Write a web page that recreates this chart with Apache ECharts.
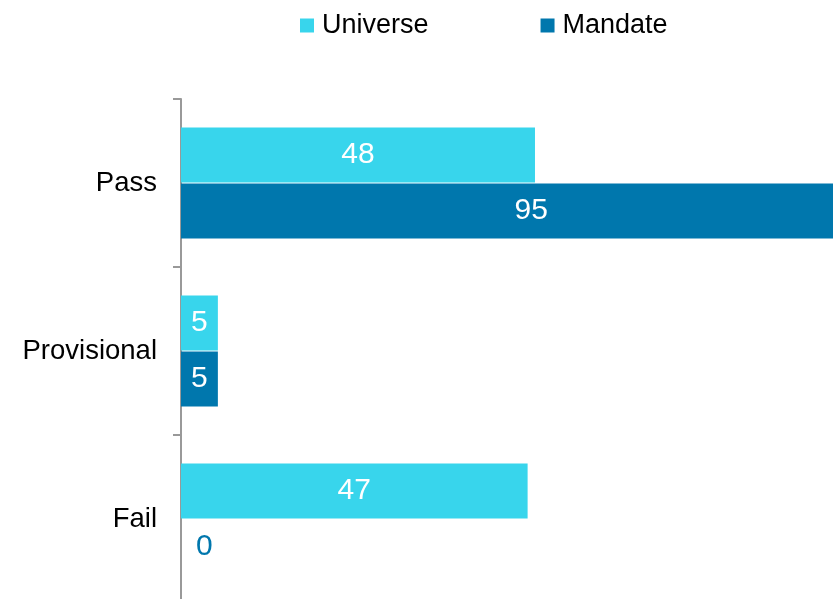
<!DOCTYPE html>
<html>
<head>
<meta charset="utf-8">
<script src="https://cdn.jsdelivr.net/npm/echarts@6/dist/echarts.min.js"></script>
<style>html,body{margin:0;padding:0;background:#fff;}#c{width:833px;height:599px;}</style>
</head>
<body>
<div id="c"></div>
<script>
const categories = ['Pass', 'Provisional', 'Fail'];
const universe = [48, 5, 47];
const mandate = [95, 5, 0];
const seriesNames = ['Universe', 'Mandate'];

const FONT = 'Liberation Sans, Arial, sans-serif';
const cUni = '#38D5EC';
const cMan = '#0077AD';

const chart = echarts.init(document.getElementById('c'));
chart.setOption({
  animation: false,
  textStyle: { fontFamily: FONT },
  legend: {
    data: seriesNames,
    top: 7,
    left: 295,
    itemWidth: 14,
    itemHeight: 14,
    itemGap: 112,
    icon: 'rect',
    textStyle: { fontSize: 27, color: '#000', fontFamily: FONT, padding: [0, 0, 0, 3] }
  },
  grid: { left: 181, top: 99, width: 700.6, height: 504, containLabel: false, outerBoundsMode: 'none' },
  xAxis: { type: 'value', min: 0, max: 95, show: false },
  yAxis: {
    type: 'category',
    data: categories,
    inverse: true,
    axisLine: { show: true, lineStyle: { color: '#999', width: 2 } },
    axisTick: { show: true, length: 8, lineStyle: { color: '#999', width: 2 } },
    axisLabel: { fontSize: 27.5, color: '#000', margin: 24, fontFamily: FONT }
  },
  series: [
    {
      name: seriesNames[0], type: 'bar', data: universe, barWidth: 55, barGap: '2%',
      itemStyle: { color: cUni },
      label: { show: true, position: 'inside', color: '#fff', fontSize: 30, fontFamily: FONT }
    },
    {
      name: seriesNames[1], type: 'bar', barWidth: 55,
      data: mandate.map(v => v === 0 ? { value: v, label: { position: 'right', distance: 15, color: cMan } } : v),
      itemStyle: { color: cMan },
      label: { show: true, position: 'inside', color: '#fff', fontSize: 30, fontFamily: FONT }
    }
  ]
});
</script>
</body>
</html>
